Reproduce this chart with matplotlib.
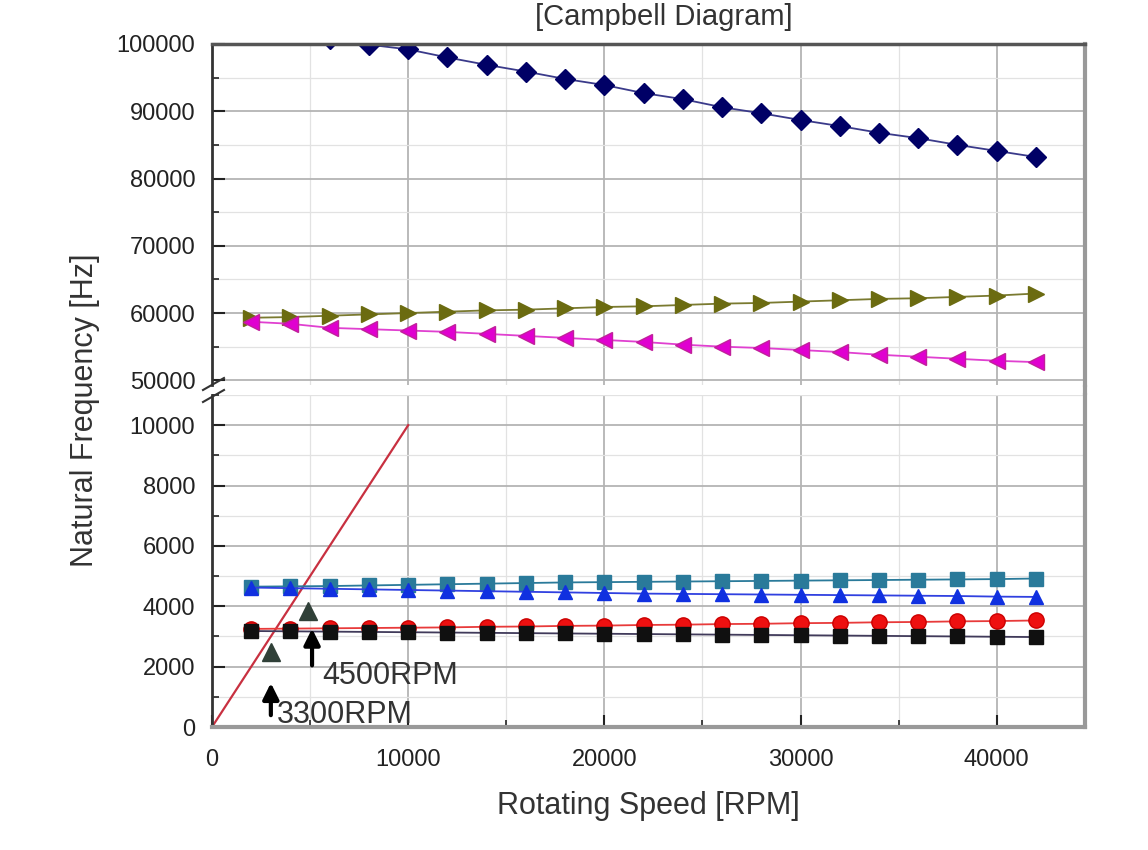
import matplotlib
matplotlib.use("Agg")
import matplotlib.pyplot as plt
from matplotlib.lines import Line2D
from matplotlib.ticker import MultipleLocator

plt.rcParams['font.family'] = ['Liberation Sans', 'DejaVu Sans']

# data
speed = [2000, 4000, 6000, 8000, 10000, 12000, 14000, 16000, 18000, 20000, 22000,
         24000, 26000, 28000, 30000, 32000, 34000, 36000, 38000, 40000, 42000]

mode_navy = [102300, 101500, 100700, 99900, 99200, 98000, 96900, 95900, 94800, 93900, 92700,
             91800, 90600, 89700, 88700, 87800, 86800, 86000, 85000, 84100, 83200]
mode_olive = [59300, 59400, 59600, 59800, 60000, 60200, 60400, 60500, 60700, 60900, 61000,
              61200, 61400, 61500, 61700, 61900, 62100, 62200, 62400, 62600, 62900]
mode_magenta = [58700, 58400, 57800, 57600, 57400, 57200, 56900, 56600, 56300, 56000, 55700,
                55300, 55000, 54800, 54500, 54200, 53800, 53500, 53200, 52900, 52700]

mode_teal = [4650, 4660, 4670, 4690, 4710, 4730, 4750, 4770, 4790, 4800, 4810,
             4820, 4830, 4840, 4850, 4860, 4870, 4880, 4890, 4900, 4920]
mode_blue = [4620, 4600, 4580, 4560, 4540, 4520, 4500, 4480, 4460, 4440, 4420,
             4410, 4400, 4390, 4380, 4370, 4360, 4350, 4340, 4320, 4310]
mode_red = [3250, 3260, 3270, 3280, 3290, 3300, 3320, 3330, 3350, 3360, 3380,
            3390, 3410, 3420, 3440, 3450, 3470, 3480, 3500, 3510, 3530]
mode_black = [3180, 3170, 3160, 3150, 3140, 3130, 3120, 3110, 3100, 3090, 3080,
              3070, 3060, 3050, 3040, 3030, 3020, 3010, 3000, 2990, 2980]

excite_x = [0, 10000]
excite_y = [0, 10000]

cross_x = [3000, 4900]
cross_y = [2500, 3850]
cross_labels = ["3300RPM", "4500RPM"]

fig = plt.figure(figsize=(11.48, 8.5), dpi=100)
left, width = 212 / 1148, 873 / 1148
ax_top = fig.add_axes([left, 1 - 385 / 850, width, 341 / 850])
ax_bot = fig.add_axes([left, 1 - 727 / 850, width, 332 / 850])

# upper part
ax_top.plot(speed, mode_navy, '-D', color='#3a3a8a', mfc='#000066', mec='#000066',
            ms=10, lw=1.3)
ax_top.plot(speed, mode_olive, '->', color='#7a7a30', mfc='#6b6b10', mec='#6b6b10', ms=11, lw=1.3)
ax_top.plot(speed, mode_magenta, '-<', color='#e040d0', mfc='#e000d0', mec='#c0209a', ms=11, lw=1.3)

# lower part
ax_bot.plot(excite_x, excite_y, '-', color='#c83040', lw=1.6)
ax_bot.plot(speed, mode_teal, '-s', color='#2a7a9a', ms=10, lw=1.3)
ax_bot.plot(speed, mode_blue, '-^', color='#3040e0', mfc='#1030e0', mec='#1030e0', ms=10, lw=1.3)
ax_bot.plot(speed, mode_red, '-o', color='#e83a3a', mfc='#ee1010', mec='#cc0000', ms=11, lw=1.3)
ax_bot.plot(speed, mode_black, '-s', color='#403a5a', mfc='#101010', mec='#101010', ms=10, lw=1.3)
ax_bot.plot(cross_x, cross_y, '^', color='#304038', ms=13, ls='none')

for ax in (ax_top, ax_bot):
    ax.set_xlim(0, 44500)
    ax.xaxis.set_major_locator(MultipleLocator(10000))
    ax.xaxis.set_minor_locator(MultipleLocator(5000))
    ax.grid(True, which='major', color='#b4b4b4', lw=1.3)
    ax.grid(True, which='minor', color='#e2e2e2', lw=0.9)
    ax.set_axisbelow(True)
    ax.tick_params(which='both', direction='in', labelsize=17, pad=12, colors='#222222')
    ax.tick_params(which='major', length=9, width=1.5)
    ax.tick_params(which='minor', length=5, width=1.2)
    ax.spines['left'].set_color('#333333')
    ax.spines['left'].set_linewidth(2)
    ax.spines['right'].set_color('#999999')
    ax.spines['right'].set_linewidth(3)

ax_top.set_ylim(49300, 100000)
ax_top.yaxis.set_major_locator(MultipleLocator(10000))
ax_top.yaxis.set_minor_locator(MultipleLocator(5000))
ax_top.spines['bottom'].set_visible(False)
ax_top.spines['top'].set_color('#555555')
ax_top.spines['top'].set_linewidth(2.5)
ax_top.tick_params(axis='x', which='both', bottom=False, labelbottom=False)

ax_bot.set_ylim(0, 11000)
ax_bot.yaxis.set_major_locator(MultipleLocator(2000))
ax_bot.yaxis.set_minor_locator(MultipleLocator(1000))
ax_bot.spines['top'].set_visible(False)
ax_bot.spines['bottom'].set_color('#999999')
ax_bot.spines['bottom'].set_linewidth(3)
ax_bot.tick_params(axis='x', pad=16)

# right spine across the gap
fig.add_artist(Line2D([1085 / 1148, 1085 / 1148], [1 - 387 / 850, 1 - 393 / 850],
                      color='#999999', lw=3))
# break marks on left axis
fig.add_artist(Line2D([203 / 1148, 224 / 1148], [1 - 390 / 850, 1 - 378 / 850],
                      color='#333333', lw=1.5))
fig.add_artist(Line2D([203 / 1148, 224 / 1148], [1 - 402 / 850, 1 - 390 / 850],
                      color='#333333', lw=1.5))

# arrows and labels for crossing speeds
ax_bot.annotate("", xy=(3000, 1550), xytext=(3000, 300),
                arrowprops=dict(arrowstyle='-|>', color='black', lw=3, mutation_scale=24))
ax_bot.text(3300, 400, cross_labels[0], fontsize=22, color='#333333', va='center')
ax_bot.annotate("", xy=(5100, 3350), xytext=(5100, 1950),
                arrowprops=dict(arrowstyle='-|>', color='black', lw=3, mutation_scale=24))
ax_bot.text(5600, 1700, cross_labels[1], fontsize=22, color='#333333', va='center')

fig.text(648 / 1148, 1 - 806 / 850, "Rotating Speed [RPM]", fontsize=22,
         ha='center', va='center', color='#333333')
fig.text(85 / 1148, 1 - 410 / 850, "Natural Frequency [Hz]", fontsize=22,
         ha='center', va='center', rotation=90, color='#333333')
fig.text(664 / 1148, 1 - 17 / 850, "[Campbell Diagram]", fontsize=21,
         ha='center', va='center', color='#333333')

fig.savefig("out.png", dpi=100)
